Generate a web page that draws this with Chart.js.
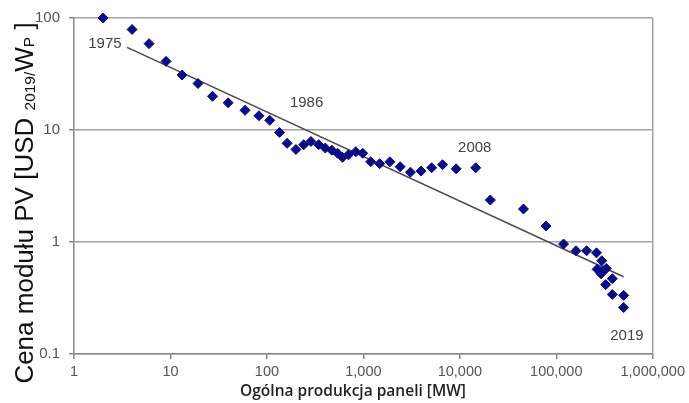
<!DOCTYPE html>
<html>
  <head>
    <meta charset="utf-8">
    <title>Cena modułu PV</title>
    <script src="https://cdn.jsdelivr.net/npm/chart.js@4.4.1/dist/chart.umd.min.js"></script>
    <style>
      html,
      body {
        margin: 0;
        padding: 0;
        background: #fff;
      }
    </style>
  </head>
  <body>
    <canvas id="myChart" width="689" height="403"></canvas>

    <script>
      // cumulative production [MW] and module price [USD2019/Wp]
      const production = [2, 4, 6, 9, 13.2, 19.3, 27.3, 39.6, 59.3, 82.7, 107, 135, 162, 200, 241, 286, 344, 403, 471, 540, 608, 700, 834, 984,
        1191, 1476, 1884, 2406, 3075, 3966, 5100, 6620, 9160, 14600, 20700, 45700, 78300, 119000, 160000, 206000, 261000, 265000,
        291000, 296000, 305000, 325000, 330000, 381000, 381000, 499000, 499000];
      const price = [100, 79, 59, 41, 31, 26, 20, 17.5, 15, 13.4, 12.2, 9.5, 7.6, 6.7, 7.4, 7.9, 7.4, 6.9, 6.6, 6.2, 5.7, 6.0, 6.4, 6.2,
        5.2, 5.0, 5.2, 4.7, 4.2, 4.3, 4.6, 4.9, 4.5, 4.6, 2.37, 1.97, 1.39, 0.96, 0.835, 0.835, 0.80, 0.57,
        0.52, 0.68, 0.555, 0.416, 0.58, 0.47, 0.34, 0.334, 0.26];

      // learning curve end points
      const trendX = [3.55, 499000];
      const trendY = [54.7, 0.49];

      const xTicks = [1, 10, 100, 1000, 10000, 100000, 1000000];
      const xTickLabels = ['1', '10', '100', '1,000', '10,000', '100,000', '1,000,000'];
      const yTicks = [0.1, 1, 10, 100];
      const yTickLabels = ['0.1', '1', '10', '100'];

      const years = ['1975', '1986', '2008', '2019'];
      const yearX = [2.09, 258, 14280, 540000];
      const yearY = [58.6, 17.4, 6.9, 0.145];

      const GRID = '#a3a3a3';

      const titlesPlugin = {
        id: 'titles',
        afterDraw(chart) {
          const ctx = chart.ctx;
          const xs = chart.scales.x, ys = chart.scales.y;
          ctx.save();

          // year labels
          ctx.fillStyle = '#444';
          ctx.font = '15px "Liberation Sans", Arial, sans-serif';
          ctx.textAlign = 'center';
          ctx.textBaseline = 'middle';
          years.forEach((t, i) => {
            ctx.fillText(t, xs.getPixelForValue(yearX[i]), ys.getPixelForValue(yearY[i]));
          });

          // x title
          ctx.fillStyle = '#222';
          ctx.font = '600 15.5px "Open Sans", sans-serif';
          ctx.fillText('Ogólna produkcja paneli [MW]', 353, 392);

          // y title with subscripts
          const big = '26px "Liberation Sans", Arial, sans-serif';
          const small = '15.5px "Liberation Sans", Arial, sans-serif';
          const parts = [
            ['Cena modułu PV [USD ', big, 0],
            ['2019/', small, 2],
            ['W', big, 0],
            ['P', small, 1],
            [' ]', big, 0]
          ];
          let total = 0;
          parts.forEach(p => { ctx.font = p[1]; total += ctx.measureText(p[0]).width; });
          ctx.translate(33, 203);
          ctx.rotate(-Math.PI / 2);
          ctx.fillStyle = '#111';
          ctx.textAlign = 'left';
          ctx.textBaseline = 'alphabetic';
          let pos = -total / 2;
          parts.forEach(p => {
            ctx.font = p[1];
            ctx.fillText(p[0], pos, p[2]);
            pos += ctx.measureText(p[0]).width;
          });
          ctx.restore();
        }
      };

      const config = {
        type: 'scatter',
        data: {
          datasets: [{
            label: 'Cena',
            data: production.map((v, i) => ({ x: v, y: price[i] })),
            backgroundColor: '#0b0b85',
            borderColor: '#0b0b85',
            pointStyle: 'rectRot',
            pointRadius: 5,
            clip: false,
            order: 1
          }, {
            type: 'line',
            label: 'Trend',
            data: trendX.map((v, i) => ({ x: v, y: trendY[i] })),
            borderColor: '#4a4a4a',
            borderWidth: 1.5,
            pointRadius: 0,
            order: 2
          }]
        },
        plugins: [titlesPlugin],
        options: {
          responsive: false,
          animation: false,
          layout: {
            padding: { left: 0, top: 18, right: 34, bottom: 0 }
          },
          scales: {
            x: {
              type: 'logarithmic',
              min: 1,
              max: 1000000,
              afterBuildTicks: (scale) => { scale.ticks = xTicks.map(v => ({ value: v })); },
              afterFit: (scale) => { scale.height = 49; },
              grid: {
                color: (c) => (c.tick && c.tick.value === 1000000 ? GRID : 'rgba(0,0,0,0)'),
                tickColor: '#888',
                tickLength: 5,
                lineWidth: 1.5
              },
              border: { color: '#888', width: 1.5 },
              ticks: {
                autoSkip: false,
                maxRotation: 0,
                padding: 4,
                color: '#555',
                font: { family: '"Liberation Sans", Arial, sans-serif', size: 14.5 },
                callback: (v, i) => xTickLabels[i]
              }
            },
            y: {
              type: 'logarithmic',
              min: 0.1,
              max: 100,
              afterBuildTicks: (scale) => { scale.ticks = yTicks.map(v => ({ value: v })); },
              afterFit: (scale) => { scale.width = 74; },
              grid: {
                color: GRID,
                tickColor: '#888',
                tickLength: 5,
                lineWidth: 1.5
              },
              border: { color: '#888', width: 1.5 },
              ticks: {
                padding: 9,
                color: '#555',
                font: { family: '"Liberation Sans", Arial, sans-serif', size: 15 },
                callback: (v, i) => yTickLabels[i]
              }
            }
          },
          plugins: {
            legend: { display: false },
            tooltip: { enabled: false }
          }
        }
      };

      const myChart = new Chart(document.getElementById('myChart'), config);
    </script>
  </body>
</html>
